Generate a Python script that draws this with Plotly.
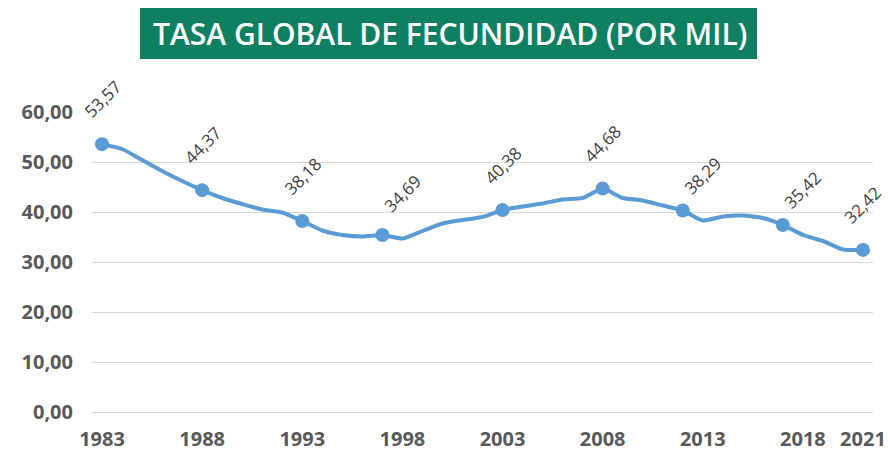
import plotly.graph_objects as go

years = list(range(1983, 2022))
values = [53.57, 52.6, 50.4, 48.2, 46.2, 44.37, 42.8, 41.6, 40.5, 39.9,
          38.18, 36.3, 35.4, 35.1, 35.4, 34.69, 36.2, 37.7, 38.4, 39.0,
          40.38, 41.1, 41.7, 42.5, 42.8, 44.68, 42.8, 42.3, 41.3, 40.3,
          38.29, 39.1, 39.3, 38.8, 37.4, 35.42, 34.2, 32.5, 32.42]
marker_years = [1983, 1988, 1993, 1997, 2003, 2008, 2012, 2017, 2021]
label_years = [1983, 1988, 1993, 1998, 2003, 2008, 2013, 2018, 2021]
label_texts = ["53,57", "44,37", "38,18", "34,69", "40,38", "44,68", "38,29", "35,42", "32,42"]
x_ticks = [1983, 1988, 1993, 1998, 2003, 2008, 2013, 2018, 2021]
y_ticks = [0, 10, 20, 30, 40, 50, 60]
y_tick_text = ["0,00", "10,00", "20,00", "30,00", "40,00", "50,00", "60,00"]
title_text = "TASA GLOBAL DE FECUNDIDAD (POR MIL)"

LINE = "#5B9BD5"
val_of = dict(zip(years, values))

fig = go.Figure()
fig.add_trace(go.Scatter(
    x=years, y=values, mode="lines",
    line=dict(color=LINE, width=4, shape="spline", smoothing=0.5),
    hoverinfo="skip", showlegend=False,
))
fig.add_trace(go.Scatter(
    x=marker_years, y=[val_of[y] for y in marker_years], mode="markers",
    marker=dict(color=LINE, size=14),
    showlegend=False, cliponaxis=False,
))

for yr, txt in zip(label_years, label_texts):
    fig.add_annotation(
        x=yr, y=val_of[yr], text=txt, showarrow=False,
        textangle=-45, yshift=45, xanchor="center", yanchor="middle",
        font=dict(family="Open Sans", size=17, color="#404040"),
    )

# Title box
fig.add_shape(type="rect", xref="paper", yref="paper",
              x0=0.0615, x1=0.8515, y0=1.1768, y1=1.347,
              fillcolor="#0F7F62", line=dict(width=0), layer="above")
fig.add_annotation(
    xref="paper", yref="paper", x=0.4584, y=1.262, text=title_text,
    showarrow=False, xanchor="center", yanchor="middle",
    font=dict(family="Open Sans", size=30, color="white", weight=600),
)

fig.update_layout(
    width=888, height=453,
    margin=dict(l=92, r=15, t=112, b=41),
    paper_bgcolor="white", plot_bgcolor="white",
    xaxis=dict(
        range=[1982.5, 2021.5], tickvals=x_ticks,
        ticktext=[str(t) for t in x_ticks],
        showgrid=False, zeroline=False, showline=False, ticks="",
        tickfont=dict(family="Open Sans", size=20, color="#595959", weight="bold"),
        ticklabelstandoff=13, automargin=False,
    ),
    yaxis=dict(
        range=[0, 60], tickvals=y_ticks, ticktext=y_tick_text,
        showgrid=True, gridcolor="#D9D9D9", gridwidth=1,
        zeroline=True, zerolinecolor="#D9D9D9", zerolinewidth=1,
        showline=False, ticks="",
        tickfont=dict(family="Open Sans", size=20, color="#595959", weight="bold"),
        ticklabelstandoff=18, automargin=False,
    ),
)

fig.write_html(
    "out.html",
    config={"displayModeBar": False},
    post_script="document.body.style.margin='0';document.body.style.overflow='hidden';",
)
